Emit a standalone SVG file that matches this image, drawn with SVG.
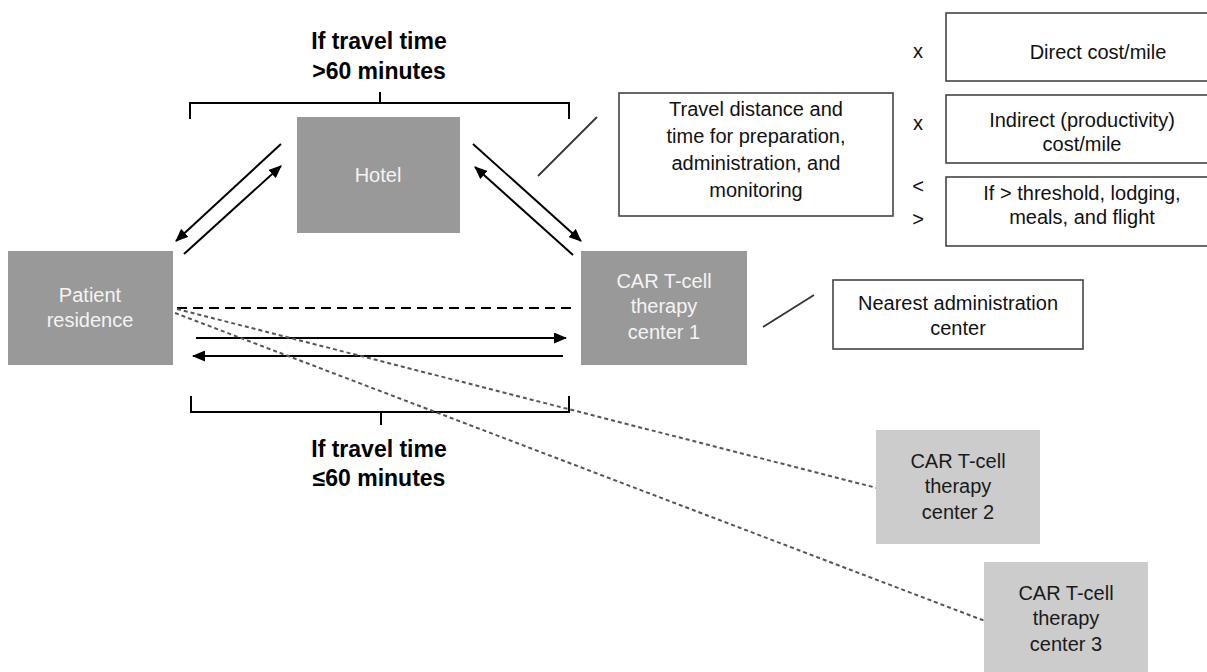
<svg xmlns="http://www.w3.org/2000/svg" width="1207" height="672" viewBox="0 0 1207 672">
<defs>
<marker id="ah" markerUnits="userSpaceOnUse" markerWidth="13" markerHeight="11" refX="12" refY="5.5" orient="auto">
<path d="M0,0 L13,5.5 L0,11 z" fill="#000"/>
</marker>
<style>
text{font-family:"Liberation Sans",Arial,sans-serif;font-size:20px;text-anchor:middle}
.dark rect{fill:#999999}
.dark text{fill:#f4f4f4}
.light rect{fill:#cccccc}
.light text{fill:#1a1a1a}
.box rect{fill:#fff;stroke:#444;stroke-width:1.6}
.box text{fill:#111}
.title{font-weight:bold;font-size:23px;fill:#000}
.sym{fill:#111;font-size:20px}
.arr{stroke:#000;stroke-width:2;fill:none;marker-end:url(#ah)}
.br{stroke:#000;stroke-width:2;fill:none}
.call{stroke:#333;stroke-width:1.8;fill:none}
.dash{stroke:#000;stroke-width:2;stroke-dasharray:10 6;fill:none}
.dot{stroke:#555;stroke-width:2;stroke-dasharray:4 3;fill:none}
</style>
</defs>
<rect width="1207" height="672" fill="#fff"/>

<g id="title-top">
<text class="title" x="379" y="49">If travel time</text>
<text class="title" x="379" y="79">&gt;60 minutes</text>
</g>
<g id="title-bottom">
<text class="title" x="379" y="457">If travel time</text>
<text class="title" x="379" y="486">≤60 minutes</text>
</g>

<g id="connectors">
<path class="br" d="M190,119 V103 H569 V119 M380,92 V103"/>
<path class="br" d="M191,396 V412 H569 V396 M381,412 V425"/>
<line class="arr" x1="281" y1="144" x2="176" y2="241"/>
<line class="arr" x1="184" y1="254" x2="281" y2="166"/>
<line class="arr" x1="473" y1="144" x2="581" y2="241"/>
<line class="arr" x1="573" y1="255" x2="475" y2="167"/>
<line class="dash" x1="177" y1="308" x2="577" y2="308"/>
<line class="arr" x1="196" y1="338" x2="566" y2="338"/>
<line class="arr" x1="563" y1="356" x2="193" y2="356"/>
<line class="dot" x1="177" y1="309" x2="877" y2="488"/>
<line class="dot" x1="175" y1="313" x2="985" y2="621"/>
<line class="call" x1="538" y1="176" x2="597" y2="117"/>
<line class="call" x1="763" y1="327" x2="814" y2="295"/>
</g>

<g id="hotel" class="dark">
<rect x="297" y="117" width="163" height="116"/>
<text x="378" y="182">Hotel</text>
</g>
<g id="patient" class="dark">
<rect x="8" y="251" width="165" height="114"/>
<text x="90" y="302">Patient</text>
<text x="90" y="327">residence</text>
</g>
<g id="center1" class="dark">
<rect x="581" y="251" width="166" height="114"/>
<text x="664" y="288">CAR T-cell</text>
<text x="664" y="313">therapy</text>
<text x="664" y="339">center 1</text>
</g>
<g id="center2" class="light">
<rect x="876" y="430" width="164" height="114"/>
<text x="958" y="468">CAR T-cell</text>
<text x="958" y="493">therapy</text>
<text x="958" y="519">center 2</text>
</g>
<g id="center3" class="light">
<rect x="984" y="562" width="164" height="120"/>
<text x="1066" y="600">CAR T-cell</text>
<text x="1066" y="625">therapy</text>
<text x="1066" y="651">center 3</text>
</g>

<g id="travel" class="box">
<rect x="619" y="93" width="274" height="123"/>
<text x="756" y="116">Travel distance and</text>
<text x="756" y="143">time for preparation,</text>
<text x="756" y="170">administration, and</text>
<text x="756" y="197">monitoring</text>
</g>
<g id="nearest" class="box">
<rect x="833" y="280" width="250" height="69"/>
<text x="958" y="310">Nearest administration</text>
<text x="958" y="335">center</text>
</g>
<g id="direct" class="box">
<rect x="946" y="13" width="310" height="68"/>
<text x="1098" y="59">Direct cost/mile</text>
</g>
<g id="indirect" class="box">
<rect x="946" y="95" width="310" height="68"/>
<text x="1082" y="127">Indirect (productivity)</text>
<text x="1082" y="151">cost/mile</text>
</g>
<g id="threshold" class="box">
<rect x="946" y="177" width="310" height="69"/>
<text x="1082" y="200">If &gt; threshold, lodging,</text>
<text x="1082" y="224">meals, and flight</text>
</g>

<g id="operators">
<text class="sym" x="918" y="58">x</text>
<text class="sym" x="918" y="130">x</text>
<text class="sym" x="918" y="193">&lt;</text>
<text class="sym" x="918" y="226">&gt;</text>
</g>
</svg>
